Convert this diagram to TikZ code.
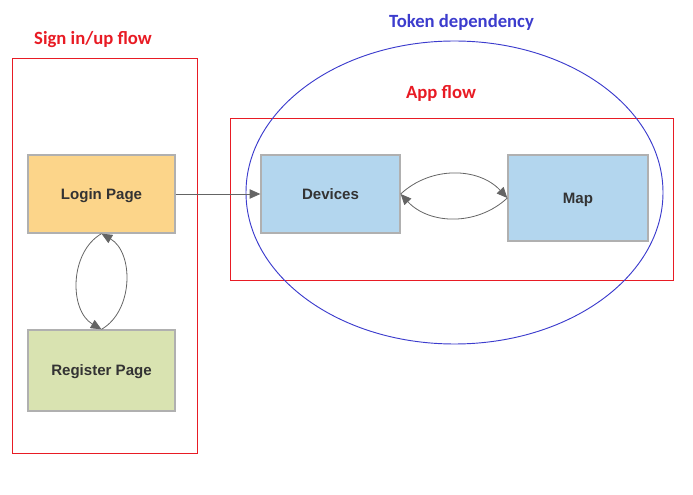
\documentclass[tikz,border=0pt]{standalone}
\usepackage{fontspec}
\setmainfont{Liberation Sans}
\newfontfamily\titlefont{Carlito}
\usepackage{tikz}
\usetikzlibrary{arrows.meta}

\definecolor{loginfill}{RGB}{252,213,138}
\definecolor{regfill}{RGB}{217,227,177}
\definecolor{appfill}{RGB}{179,214,238}
\definecolor{boxline}{RGB}{176,176,176}
\definecolor{flowred}{RGB}{232,27,36}
\definecolor{tokenblue}{RGB}{60,60,205}
\definecolor{linkgray}{RGB}{100,100,100}

\begin{document}
\begin{tikzpicture}[
    x=0.75pt, y=0.75pt,
    page/.style={rectangle, draw=boxline, line width=1pt, text=black!80, text depth=0pt,
                 font=\fontsize{11.3}{13}\selectfont\bfseries},
    frame/.style={draw=flowred, line width=0.75pt},
    title/.style={font=\titlefont\fontsize{14}{16}\selectfont\bfseries},
    link/.style={-{Triangle[length=8pt,width=7pt]}, draw=linkgray, line width=0.6pt} % 箭头样式
]
\useasboundingbox (0,0) rectangle (693,-495);

% 外框与椭圆
\draw[frame] (12,-59) rectangle (197,-453);
\draw[frame] (230,-119) rectangle (673,-281);
\draw[draw=tokenblue, line width=0.7pt] (454.5,-192.5) ellipse [x radius=208.5, y radius=151.5];

% 标题
\node[title, text=flowred] (signtitle) at (93,-39.5) {Sign in/up flow};
\node[title, text=tokenblue] (tokentitle) at (461.5,-22.5) {Token dependency};
\node[title, text=flowred] (apptitle) at (441,-93.5) {App flow};

% 页面
\node[page, fill=loginfill, minimum width=110.25pt, minimum height=58.5pt] (login) at (101.5,-194) {Login Page};
\node[page, fill=regfill, minimum width=110.25pt, minimum height=60.75pt] (register) at (101.5,-370.5) {Register Page};
\node[page, fill=appfill, minimum width=104.25pt, minimum height=58.5pt] (devices) at (330.5,-194) {Devices};
\node[page, fill=appfill, minimum width=105pt, minimum height=64.5pt] (map) at (578,-198) {Map};

% 连线
\draw[link] (login) -- (devices);
\draw[link] (login.south) to[bend right=60] (register.north);
\draw[link] (register.north) to[bend right=60] (login.south);
\draw[link] (devices.east) to[bend left=45] (map.west);
\draw[link] (map.west) to[bend left=45] (devices.east);

\end{tikzpicture}
\end{document}
